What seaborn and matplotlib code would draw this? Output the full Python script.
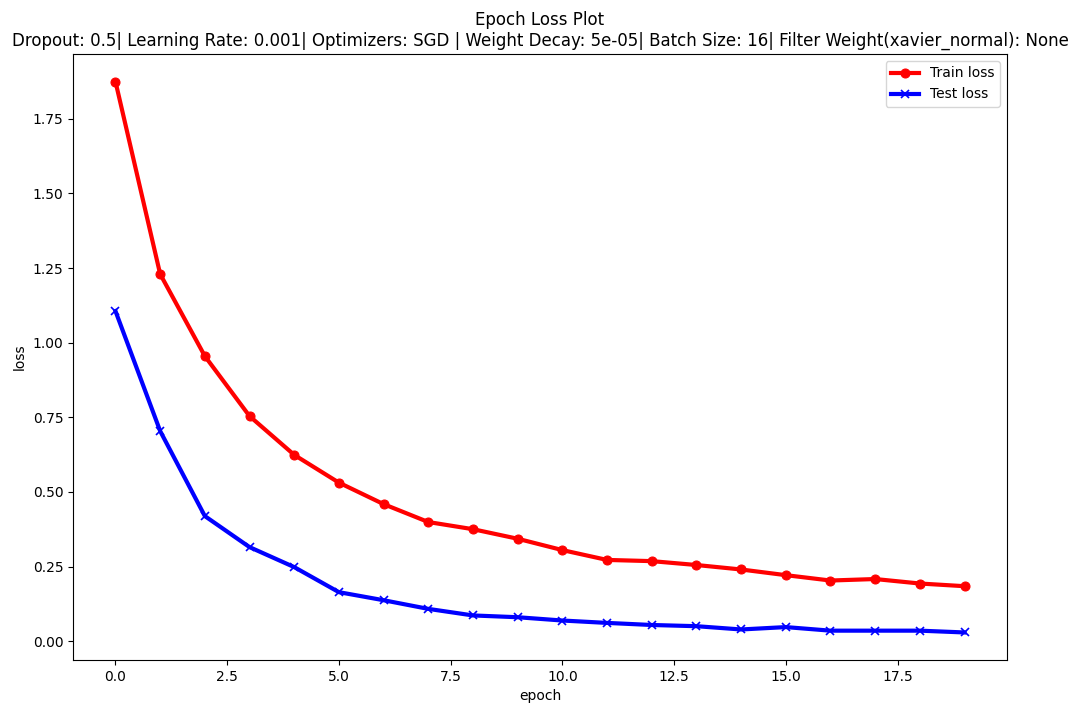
import matplotlib
matplotlib.use("Agg")
import matplotlib.pyplot as plt
import seaborn as sns

epochs = list(range(20))
train_loss = [1.875, 1.230, 0.955, 0.754, 0.624, 0.531, 0.459, 0.399, 0.375, 0.343,
              0.305, 0.272, 0.268, 0.255, 0.240, 0.221, 0.203, 0.208, 0.193, 0.184]
test_loss = [1.106, 0.704, 0.419, 0.315, 0.248, 0.164, 0.137, 0.108, 0.086, 0.080,
             0.069, 0.061, 0.054, 0.050, 0.039, 0.047, 0.035, 0.035, 0.035, 0.029]

title = ("Epoch Loss Plot\nDropout: 0.5| Learning Rate: 0.001| Optimizers: SGD | "
         "Weight Decay: 5e-05| Batch Size: 16| Filter Weight(xavier_normal): None")

DPI = 100
fig, ax = plt.subplots(figsize=(10.8, 7.04), dpi=DPI)
fig.subplots_adjust(left=0.0676, right=0.9324, bottom=0.0625, top=0.9233)

sns.lineplot(x=epochs, y=train_loss, ax=ax, color="red", marker="o", markersize=6.5,
             markeredgecolor="red", linewidth=3, label="Train loss")
sns.lineplot(x=epochs, y=test_loss, ax=ax, color="blue", marker="x", markersize=6,
             markeredgecolor="blue", markeredgewidth=1.2, linewidth=3, label="Test loss")

ax.set_title(title, fontsize=12)
ax.set_xlabel("epoch", fontsize=10)
ax.set_ylabel("loss", fontsize=10)
ax.tick_params(labelsize=10)
ax.legend(loc="upper right", fontsize=10)
fig.savefig("out.png", dpi=DPI)
